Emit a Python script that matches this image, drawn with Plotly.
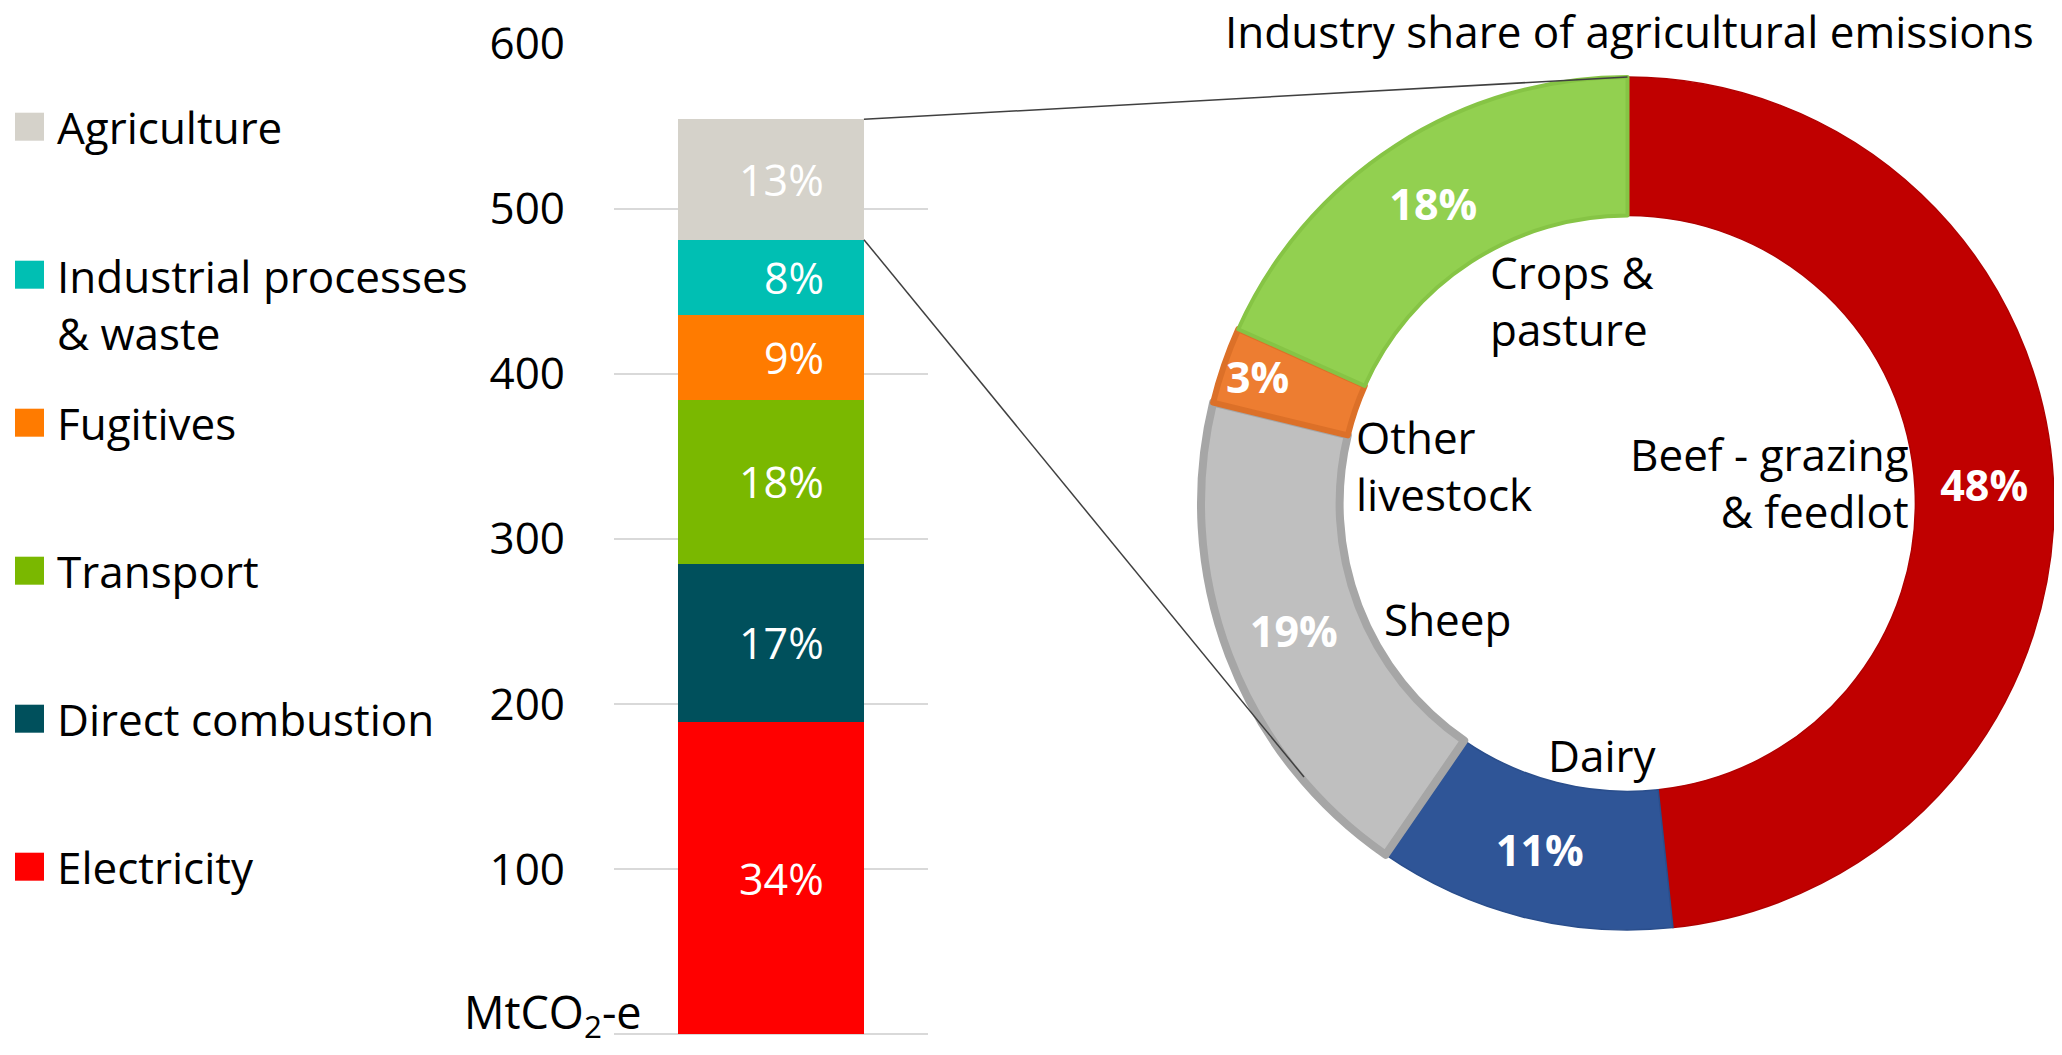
import plotly.graph_objects as go

# ---------------- data ----------------
categories = ["Electricity", "Direct combustion", "Transport", "Fugitives",
              "Industrial processes<br>& waste", "Agriculture"]
values = [189.3, 95.7, 99.2, 51.4, 45.7, 72.9]          # MtCO2-e
bar_colors = ["#FF0000", "#00505C", "#7AB800", "#FF7B00", "#00BFB3", "#D5D2CA"]

ag_labels = ["Beef - grazing<br>& feedlot", "Dairy", "Sheep", "Other<br>livestock", "Crops &<br>pasture"]
ag_values = [48.3, 11.3, 19.2, 2.9, 18.3]                # % of agriculture
ag_colors = ["#C00000", "#2F5597", "#BFBFBF", "#ED7D31", "#92D050"]
ag_line_colors = ["#B00000", "#2A4E8C", "#A6A6A6", "#DC7028", "#86C445"]
ag_line_widths = [1.5, 1.5, 8, 6, 4]

y_ticks = [100, 200, 300, 400, 500, 600]
unit_label = "MtCO<sub>2</sub>-e"
pie_title = "Industry share of agricultural emissions"

# ---------------- geometry helpers (screen px -> paper) ----------------
OFF = 8
W, H = 2062 - 2 * OFF, 1055 - 2 * OFF
def X(p):
    return (p - OFF) / W
def Y(p):
    return 1 - (p - OFF) / H

FONT = "Open Sans"
BARGAP = 0.408
PLOT_L, PLOT_R = 614, 928
Y0_PX, Y600_PX = 1034.3, 43.7
YMAX = 600
R = 426.5
CX, CY = 2062 - OFF - R, 503.5

def ypx(v):
    return Y0_PX - v * (Y0_PX - Y600_PX) / YMAX

fig = go.Figure()

total = sum(values)
cum = 0
annotations = []
for cat, v, c in zip(categories, values, bar_colors):
    fig.add_trace(go.Bar(x=["total"], y=[v], name=cat, marker=dict(color=c, line=dict(width=0)),
                         showlegend=False, hoverinfo="skip"))
    annotations.append(dict(x=(1 - BARGAP) / 2, y=cum + v / 2, xref="x", yref="y",
                            text=f"{round(100 * v / total)}%", showarrow=False,
                            xanchor="right", yanchor="middle", xshift=-38,
                            font=dict(family=FONT, size=43, color="white")))
    cum += v

fig.add_trace(go.Pie(labels=ag_labels, values=ag_values, sort=False, direction="clockwise",
                     rotation=0, hole=0.675,
                     marker=dict(colors=ag_colors, line=dict(color=ag_line_colors, width=ag_line_widths)),
                     texttemplate="%{percent:.0%}", textposition="inside",
                     insidetextorientation="horizontal",
                     textfont=dict(family=FONT, size=43, color="white", weight="bold"),
                     domain=dict(x=[X(CX - R), 1.0], y=[Y(CY + R), Y(CY - R)]),
                     showlegend=False, hoverinfo="skip"))

# legend (manual)
leg_y0 = 126.7
leg_step = 148.0
shapes = []
for k, (cat, c) in enumerate(zip(reversed(categories), reversed(bar_colors))):
    yc = leg_y0 + k * leg_step
    shapes.append(dict(type="rect", xref="paper", yref="paper",
                       x0=X(15), x1=X(44), y0=Y(yc + 14), y1=Y(yc - 14),
                       fillcolor=c, line=dict(width=0)))
    nlines = cat.count("<br>") + 1
    annotations.append(dict(x=X(55), y=Y(yc if nlines == 1 else yc - 31), xref="paper", yref="paper",
                            text=cat, showarrow=False, xanchor="left",
                            yanchor="top" if nlines > 1 else "middle", align="left",
                            font=dict(family=FONT, size=44, color="black")))

# connectors from bar to donut
bar_right_px = PLOT_L + (0.5 + (1 - BARGAP) / 2) * (PLOT_R - PLOT_L)
top_px = ypx(total)
ag_bottom_px = ypx(total - values[-1])
shapes.append(dict(type="line", xref="paper", yref="paper", x0=X(bar_right_px), y0=Y(top_px),
                   x1=X(CX), y1=Y(CY - R), line=dict(color="#404040", width=1.5)))
shapes.append(dict(type="line", xref="paper", yref="paper", x0=X(bar_right_px), y0=Y(ag_bottom_px),
                   x1=X(1304), y1=Y(777), line=dict(color="#404040", width=1.5)))

# unit label
annotations.append(dict(x=X(462), y=Y(1014), xref="paper", yref="paper", text=unit_label,
                        showarrow=False, xanchor="left", yanchor="middle",
                        font=dict(family=FONT, size=45, color="black")))
# pie title
annotations.append(dict(x=X(1629), y=Y(31), xref="paper", yref="paper", text=pie_title,
                        showarrow=False, xanchor="center", yanchor="middle",
                        font=dict(family=FONT, size=44, color="black")))

# labels inside the donut hole
hole_labels = [
    (ag_labels[0], 1911, 482, "right"),
    (ag_labels[1], 1546, 755, "left"),
    (ag_labels[2], 1382, 619, "left"),
    (ag_labels[3], 1354, 466, "left"),
    (ag_labels[4], 1488, 300, "left"),
]
for txt, xp, yp, al in hole_labels:
    annotations.append(dict(x=X(xp), y=Y(yp), xref="paper", yref="paper", text=txt,
                            showarrow=False, xanchor=al, yanchor="middle", align=al,
                            font=dict(family=FONT, size=44, color="black")))

fig.update_layout(
    width=W, height=H, autosize=False,
    margin=dict(l=0, r=0, t=0, b=0, pad=0, autoexpand=False),
    paper_bgcolor="white", plot_bgcolor="white",
    barmode="stack", bargap=BARGAP,
    uniformtext=dict(mode="show", minsize=43),
    xaxis=dict(domain=[X(PLOT_L), X(PLOT_R)], range=[-0.5, 0.5], showticklabels=False,
               showgrid=False, zeroline=False, showline=False, fixedrange=True, automargin=False),
    yaxis=dict(domain=[Y(Y0_PX), Y(Y600_PX)], range=[0, YMAX], tickvals=y_ticks,
               showgrid=True, gridcolor="#D9D9D9", gridwidth=2, zeroline=True,
               zerolinecolor="#D9D9D9", zerolinewidth=2, showline=False, ticks="",
               ticklabelstandoff=48, automargin=False,
               tickfont=dict(family=FONT, size=44, color="black")),
    shapes=shapes,
    annotations=annotations,
    font=dict(family=FONT),
)

fig.write_html("out.html")
